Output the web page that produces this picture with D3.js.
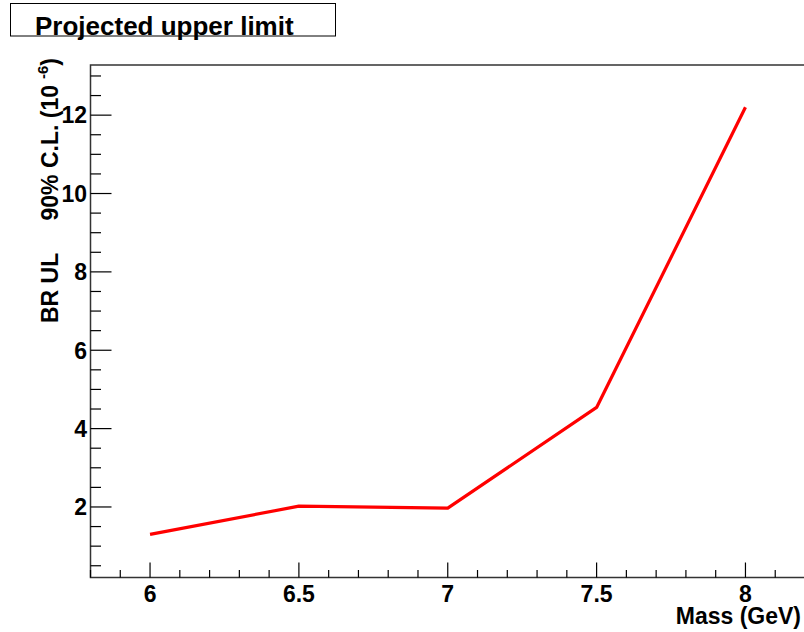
<!DOCTYPE html>
<html><head><meta charset="utf-8">
<script src="https://cdn.jsdelivr.net/npm/d3@7"></script>
<style>body{margin:0;background:#fff;} svg{display:block;font-family:"Liberation Sans",Arial,sans-serif;font-weight:bold;}</style>
</head><body>
<svg id="c" width="804" height="632"></svg>
<script>
const masses = [6, 6.5, 7, 7.5, 8];
const upperLimits = [1.30, 2.02, 1.97, 4.54, 12.2];
const xTicks = [6, 6.5, 7, 7.5, 8];
const xTickLabels = ["6", "6.5", "7", "7.5", "8"];
const yTicks = [2, 4, 6, 8, 10, 12];
const titleText = "Projected upper limit";
const xTitle = "Mass (GeV)";
const yTitleA = "BR UL";
const yTitleB = "90% C.L. (10";
const yTitleExp = "-6";

const svg = d3.select("#c");
const L = 90.5, R = 805, T = 65, B = 577.5;
const x = d3.scaleLinear().domain([5.8, 8.2]).range([L, R]);
const y = d3.scaleLinear().domain([0.2, 13.28]).range([B, T]);

// frame
svg.append("rect").attr("x", L).attr("y", T).attr("width", R - L).attr("height", B - T)
  .attr("fill", "none").attr("stroke", "#333").attr("stroke-width", 1.5);

// x axis ticks
const xMinor = d3.range(58, 83).map(v => v / 10);
svg.append("g").selectAll("line").data(xMinor).join("line")
  .attr("x1", d => x(d)).attr("x2", d => x(d))
  .attr("y1", B).attr("y2", d => (Math.abs(d * 2 - Math.round(d * 2)) < 1e-6) ? B - 15 : B - 7.5)
  .attr("stroke", "#000").attr("stroke-width", 1.2);
svg.append("g").selectAll("text").data(xTicks).join("text")
  .attr("x", d => x(d)).attr("y", 601.5).attr("text-anchor", "middle")
  .attr("font-size", 23).text((d, i) => xTickLabels[i]);

// y axis ticks
const yMinor = d3.range(1, 27).map(v => v / 2).filter(v => v > 0.2 && v < 13.28);
svg.append("g").selectAll("line").data(yMinor).join("line")
  .attr("y1", d => y(d)).attr("y2", d => y(d))
  .attr("x1", L).attr("x2", d => (d % 2 === 0) ? L + 21 : L + 10.5)
  .attr("stroke", "#000").attr("stroke-width", 1.2);
svg.append("g").selectAll("text").data(yTicks).join("text")
  .attr("x", 87).attr("y", d => y(d)).attr("dy", "0.36em").attr("text-anchor", "end")
  .attr("font-size", 23).text(d => d);

// line
const line = d3.line().x((d, i) => x(masses[i])).y(d => y(d));
svg.append("path").datum(upperLimits).attr("d", line)
  .attr("fill", "none").attr("stroke", "#ff0000").attr("stroke-width", 3.2)
  .attr("stroke-linejoin", "round");

// axis titles
svg.append("text").attr("x", 801).attr("y", 624).attr("text-anchor", "end")
  .attr("font-size", 23).text(xTitle);

svg.append("text").attr("transform", "translate(58,323) rotate(-90)")
  .attr("text-anchor", "start").attr("font-size", 23).text(yTitleA);
const yt = svg.append("text").attr("transform", "translate(58,58) rotate(-90)")
  .attr("text-anchor", "end").attr("font-size", 23);
yt.append("tspan").text(yTitleB);
yt.append("tspan").attr("font-size", 15).attr("dx", 6).attr("dy", -10).text(yTitleExp);
yt.append("tspan").attr("dy", 10).text(")");

// title box
svg.append("rect").attr("x", 10.5).attr("y", 3.5).attr("width", 325).attr("height", 32.5)
  .attr("fill", "#fff").attr("stroke", "#000").attr("stroke-width", 1);
svg.append("text").attr("x", 35).attr("y", 35).attr("font-size", 26).text(titleText);
</script>
</body></html>
